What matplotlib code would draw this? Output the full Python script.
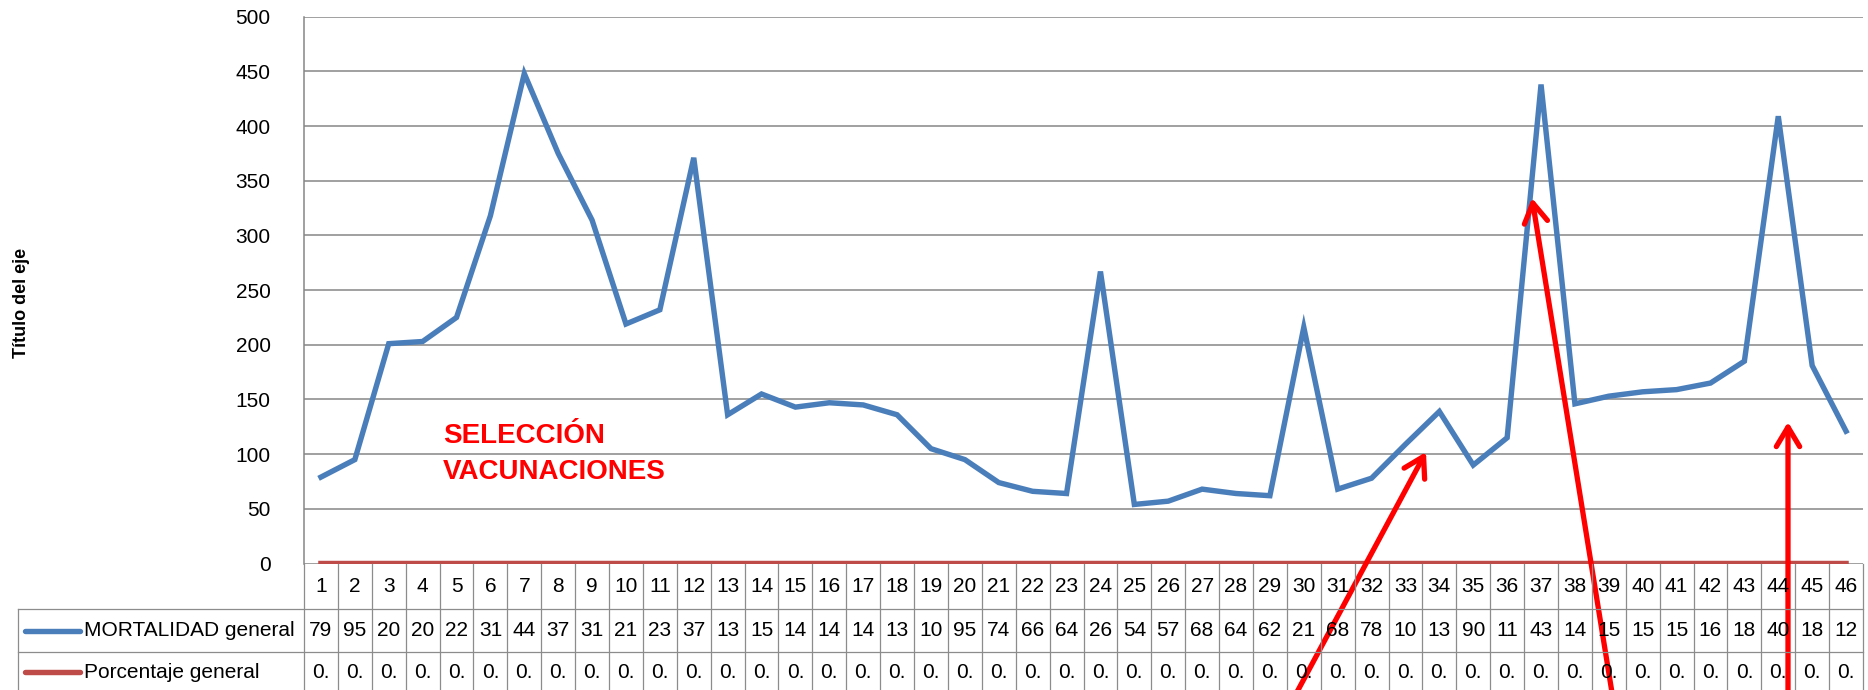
import matplotlib
matplotlib.use("Agg")
import matplotlib.pyplot as plt
import matplotlib.transforms as mtransforms
from matplotlib.patches import FancyArrowPatch
from matplotlib.lines import Line2D

# --- Datos ---
dias = list(range(1, 47))
mortalidad = [79, 95, 201, 203, 225, 318, 448, 375, 314, 219,
              232, 371, 136, 155, 143, 147, 145, 136, 105, 95,
              74, 66, 64, 267, 54, 57, 68, 64, 62, 216,
              68, 78, 109, 139, 90, 115, 438, 146, 153, 157,
              159, 165, 185, 409, 181, 121]
porcentaje = [0.010, 0.012, 0.026, 0.027, 0.030, 0.042, 0.059, 0.049, 0.041, 0.029,
              0.030, 0.049, 0.018, 0.020, 0.019, 0.019, 0.019, 0.018, 0.014, 0.012,
              0.010, 0.009, 0.008, 0.035, 0.007, 0.007, 0.009, 0.008, 0.008, 0.028,
              0.009, 0.010, 0.014, 0.018, 0.012, 0.015, 0.057, 0.019, 0.020, 0.021,
              0.021, 0.022, 0.024, 0.054, 0.024, 0.016]
series = ["MORTALIDAD general", "Porcentaje general"]
yticks = list(range(0, 501, 50))

AZUL = "#4A7EBB"
ROJO_SERIE = "#BE4B48"
GRIS = "#868686"
ROJO = "#FF0000"

W, H = 1868, 690
plt.rcParams["font.family"] = ["Liberation Sans", "DejaVu Sans"]

fig = plt.figure(figsize=(W / 100, H / 100), dpi=100)
# area del grafico en pixeles: x 304..1863, y 16.7..563.5
ax = fig.add_axes([304 / W, 1 - 563.5 / H, (1863 - 304) / W, (563.5 - 16.7) / H])

ax.plot(dias, mortalidad, color=AZUL, lw=3.9, solid_joinstyle="miter", zorder=3)
ax.plot(dias, porcentaje, color=ROJO_SERIE, lw=3.9, zorder=3)

ax.set_xlim(0.5, 46.5)
ax.set_ylim(0, 500)
ax.set_yticks(yticks)
ax.set_xticks([])
ax.tick_params(axis="y", length=0, pad=24, labelsize=15)
ax.yaxis.grid(True, color=GRIS, lw=1.1)
ax.set_axisbelow(True)
for s in ["top", "right", "bottom"]:
    ax.spines[s].set_visible(False)
ax.spines["left"].set_color(GRIS)
ax.spines["left"].set_linewidth(1.1)

fig.text(22 / W, 1 - 303 / H, "Título del eje", rotation=90, fontsize=13,
         fontweight="bold", ha="center", va="center")

# --- Tabla de datos ---
pix = mtransforms.Affine2D().scale(1 / W, -1 / H).translate(0, 1) + fig.transFigure
col_t = mtransforms.blended_transform_factory(ax.transData, pix)

filas = [564, 609, 652, 700]
xs0 = [d - 0.5 for d in dias] + [dias[-1] + 0.5]
kw = dict(color="#8C8C8C", lw=0.9, clip_on=False)
for x in xs0:
    fig.add_artist(Line2D([x, x], [filas[0], filas[-1]], transform=col_t, **kw))
for y in filas[1:3]:
    fig.add_artist(Line2D([18, 1863], [y, y], transform=pix, **kw))
fig.add_artist(Line2D([18, 18], [filas[1], filas[-1]], transform=pix, **kw))

for i, d in enumerate(dias):
    fig.text(d, (filas[0] + filas[1]) / 2, str(d), transform=col_t,
             ha="center", va="center", fontsize=15)
    fig.text(d, (filas[1] + filas[2]) / 2, str(mortalidad[i])[:2], transform=col_t,
             ha="center", va="center", fontsize=15)
    fig.text(d, 672, str(porcentaje[i])[:2], transform=col_t,
             ha="center", va="center", fontsize=15)

for j, (nombre, color) in enumerate(zip(series, [AZUL, ROJO_SERIE])):
    yc = (filas[1] + filas[2]) / 2 if j == 0 else 672
    fig.add_artist(Line2D([25, 80], [yc, yc], transform=pix, color=color, lw=3.9,
                          solid_capstyle="round"))
    fig.text(84, yc, nombre, transform=pix, ha="left", va="center", fontsize=15)

# --- Anotaciones en rojo ---
fig.text(443, 443, "SELECCIÓN", transform=pix, color=ROJO, fontsize=20,
         fontweight="bold", va="baseline")
fig.text(443, 479, "VACUNACIONES", transform=pix, color=ROJO, fontsize=20,
         fontweight="bold", va="baseline")

flechas = [((1290, 705), (1426, 452)),
           ((1614, 705), (1532, 198)),
           ((1788, 705), (1788, 422))]
for cola, punta in flechas:
    a = FancyArrowPatch(cola, punta, transform=pix,
                        arrowstyle="->,head_length=0.7,head_width=0.42",
                        mutation_scale=20, color=ROJO, lw=3.8,
                        shrinkA=0, shrinkB=0, capstyle="round", joinstyle="round")
    fig.add_artist(a)

plt.savefig("out.png", dpi=100)
plt.close()
